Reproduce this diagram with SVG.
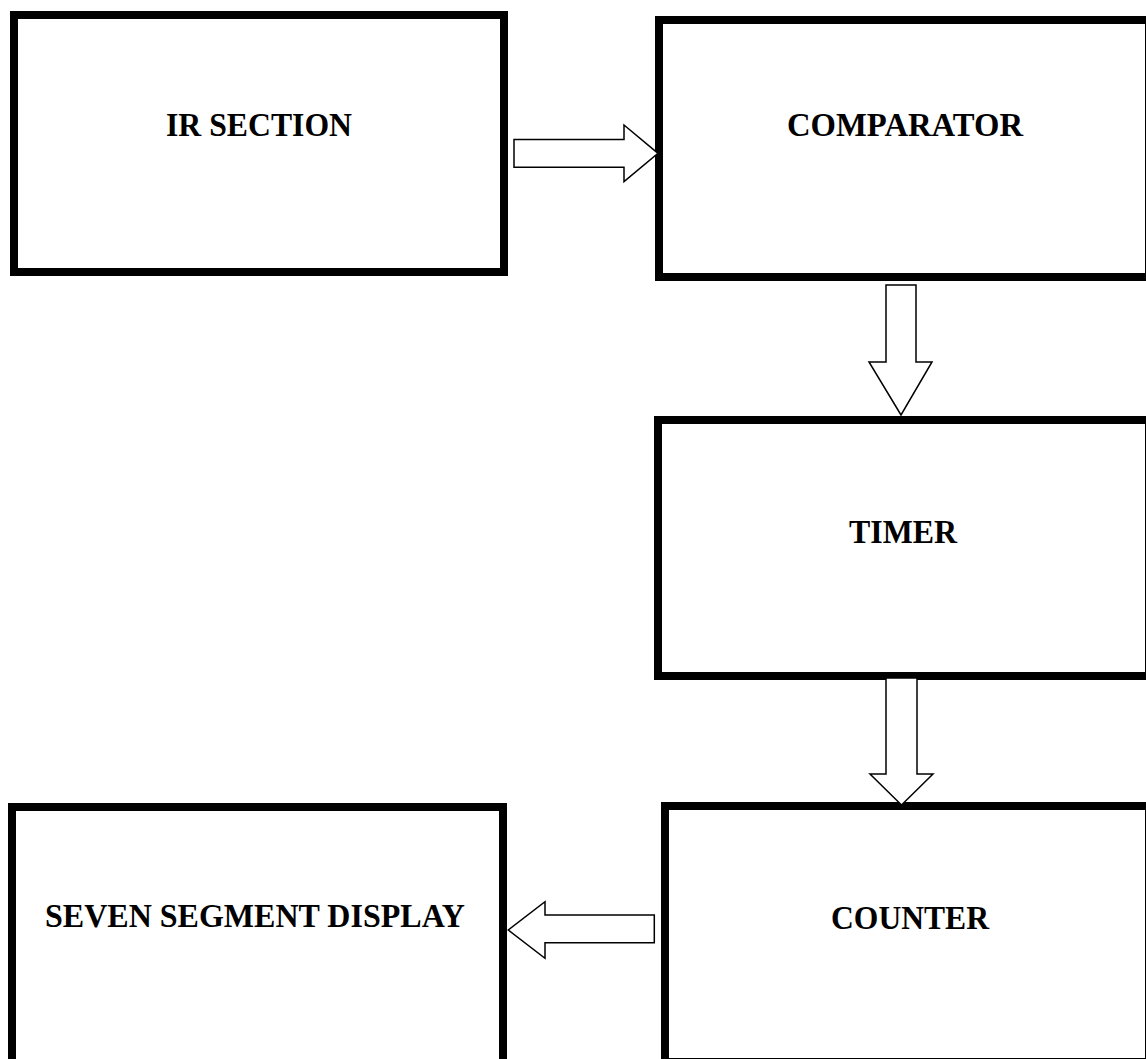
<svg xmlns="http://www.w3.org/2000/svg" width="1146" height="1059" viewBox="0 0 1146 1059">
<style>
.box{fill:#fff;stroke:#000;stroke-width:8}
.lbl{font-family:"Liberation Serif","Times New Roman",serif;font-weight:bold;font-size:34px;fill:#000;text-anchor:middle}
.arr{fill:#fff;stroke:#000;stroke-width:1.5;stroke-linejoin:miter}
</style>
<rect width="1146" height="1059" fill="#fff"/>
<g id="ir-section"><rect class="box" x="14" y="15" width="490" height="257"/><text class="lbl" x="259" y="136" textLength="186" lengthAdjust="spacingAndGlyphs">IR SECTION</text></g>
<g id="comparator"><rect class="box" x="659" y="20" width="490" height="257"/><text class="lbl" x="905" y="136" textLength="236" lengthAdjust="spacingAndGlyphs">COMPARATOR</text></g>
<g id="timer"><rect class="box" x="658" y="420" width="491" height="256"/><text class="lbl" x="903" y="543" textLength="108" lengthAdjust="spacingAndGlyphs">TIMER</text></g>
<g id="counter"><rect class="box" x="665" y="806" width="484" height="256"/><text class="lbl" x="910" y="929" textLength="158" lengthAdjust="spacingAndGlyphs">COUNTER</text></g>
<g id="seven-segment-display"><rect class="box" x="12" y="807" width="491" height="270"/><text class="lbl" x="255" y="927" textLength="420" lengthAdjust="spacingAndGlyphs">SEVEN SEGMENT DISPLAY</text></g>
<g id="connectors">
<polygon class="arr" points="514,139.5 624,139.5 624,125 658,153.3 624,181.7 624,167.3 514,167.3"/>
<polygon class="arr" points="886,285 916,285 916,362 932,362 901,415 869,362 886,362"/>
<polygon class="arr" points="886,678 917,678 917,774 933,774 901.5,805 870,774 886,774"/>
<polygon class="arr" points="654.3,915 545,915 545,901.7 508.3,930 545,958.3 545,942.7 654.3,942.7"/>
</g>
</svg>
